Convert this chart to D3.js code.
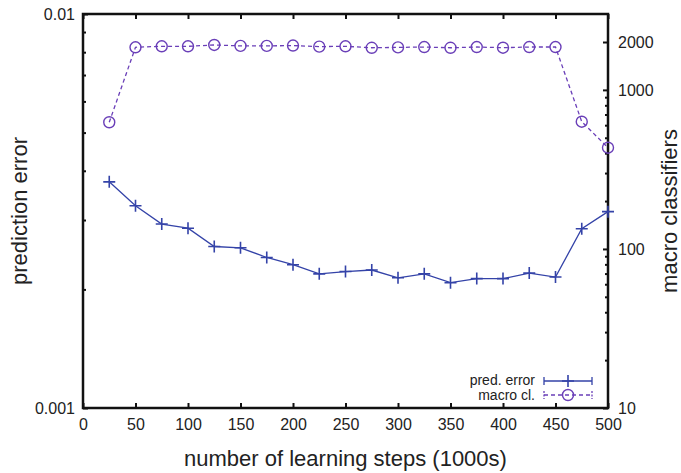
<!DOCTYPE html>
<html>
<head>
<meta charset="utf-8">
<script src="https://cdn.jsdelivr.net/npm/d3@7"></script>
<style>
body { margin: 0; background: #fff; }
text { font-family: "Liberation Sans", Arial, Helvetica, sans-serif; fill: #222; }
</style>
</head>
<body>
<div id="chart"></div>
<script>
// learning steps (1000s)
var steps = [25, 50, 75, 100, 125, 150, 175, 200, 225, 250, 275, 300, 325, 350, 375, 400, 425, 450, 475, 500];
// prediction error (left axis, log)
var predError = [0.00375, 0.00326, 0.00293, 0.00286, 0.00257, 0.00255, 0.00241, 0.00231, 0.00219, 0.00222,
                 0.00224, 0.00214, 0.00219, 0.00208, 0.00213, 0.00213, 0.00220, 0.00215, 0.00285, 0.00315];
// number of macro classifiers (right axis, log)
var macroCl = [626, 1853, 1880, 1880, 1916, 1890, 1890, 1900, 1870, 1880,
               1840, 1850, 1860, 1840, 1860, 1842, 1860, 1860, 631, 433];

var xTicks = [0, 50, 100, 150, 200, 250, 300, 350, 400, 450, 500];
var leftTicks = [0.001, 0.01];
var leftMinor = [0.002, 0.003, 0.004, 0.005, 0.006, 0.007, 0.008, 0.009];
var rightTicks = [10, 100, 1000, 2000];
var rightMinor = [20, 30, 40, 50, 60, 70, 80, 90, 200, 300, 400, 500, 600, 700, 800, 900];

var W = 681, H = 473;
var margin = {top: 14, right: 73, bottom: 65, left: 83},
    width = W - margin.left - margin.right,
    height = H - margin.top - margin.bottom;

var blue = "#3443a8", purple = "#6a3fb8";

var svg = d3.select("#chart").append("svg")
    .attr("width", W)
    .attr("height", H);
var g = svg.append("g")
    .attr("transform", "translate(" + margin.left + "," + margin.top + ")");

var x = d3.scaleLinear().domain([0, 500]).range([0, width]);
var yL = d3.scaleLog().domain([0.001, 0.01]).range([height, 0]);
var yR = d3.scaleLog().domain([10, 3000]).range([height, 0]);

// axes (ticks inside, like gnuplot)
var xAxis = d3.axisBottom(x).tickValues(xTicks).tickSize(-5).tickPadding(11).tickFormat(d3.format("d"));
var xTop = d3.axisTop(x).tickValues(xTicks).tickSize(-5).tickFormat("");
var lAxis = d3.axisLeft(yL).tickValues(leftTicks).tickSize(-5).tickPadding(8).tickFormat(function(d) { return d === 0.01 ? "0.01" : "0.001"; });
var lMinor = d3.axisLeft(yL).tickValues(leftMinor).tickSize(-3).tickFormat("");
var rAxis = d3.axisRight(yR).tickValues(rightTicks).tickSize(-5).tickPadding(10).tickFormat(d3.format("d"));
var rMinor = d3.axisRight(yR).tickValues(rightMinor).tickSize(-3).tickFormat("");

function styleAxis(sel) {
  sel.select(".domain").remove();
  sel.selectAll("line").attr("stroke", "#111").attr("stroke-width", 2);
  sel.selectAll("text").style("font-size", "16px").attr("fill", "#222");
}

g.append("g").attr("transform", "translate(0," + height + ")").call(xAxis).call(styleAxis);
g.append("g").call(xTop).call(styleAxis);
g.append("g").call(lAxis).call(styleAxis);
g.append("g").call(lMinor).call(styleAxis);
g.append("g").attr("transform", "translate(" + width + ",0)").call(rAxis).call(styleAxis);
g.append("g").attr("transform", "translate(" + width + ",0)").call(rMinor).call(styleAxis);

// frame
g.append("rect")
    .attr("width", width).attr("height", height)
    .attr("fill", "none").attr("stroke", "#111").attr("stroke-width", 2.5);

// macro classifiers line
var lineR = d3.line().x(function(d, i) { return x(steps[i]); }).y(function(d) { return yR(d); });
g.append("path").datum(macroCl)
    .attr("d", lineR).attr("fill", "none").attr("stroke", purple)
    .attr("stroke-width", 1.3).attr("stroke-dasharray", "4,3");
g.selectAll(".circ").data(macroCl).enter().append("circle")
    .attr("cx", function(d, i) { return x(steps[i]); })
    .attr("cy", function(d) { return yR(d); })
    .attr("r", 5.5).attr("fill", "none").attr("stroke", purple).attr("stroke-width", 1.4);

// prediction error line
var lineL = d3.line().x(function(d, i) { return x(steps[i]); }).y(function(d) { return yL(d); });
g.append("path").datum(predError)
    .attr("d", lineL).attr("fill", "none").attr("stroke", blue).attr("stroke-width", 1.3);
function plus(sel, cx, cy, s) {
  sel.append("path")
      .attr("d", "M" + (cx - s) + "," + cy + "H" + (cx + s) + "M" + cx + "," + (cy - s) + "V" + (cy + s))
      .attr("stroke", blue).attr("stroke-width", 1.6);
}
predError.forEach(function(d, i) { plus(g, x(steps[i]), yL(d), 6); });

// axis titles
svg.append("text")
    .attr("x", margin.left + width / 2).attr("y", 466)
    .attr("text-anchor", "middle").style("font-size", "22px")
    .text("number of learning steps (1000s)");
svg.append("text")
    .attr("transform", "translate(27," + (margin.top + height / 2) + ") rotate(-90)")
    .attr("text-anchor", "middle").style("font-size", "22px")
    .text("prediction error");
svg.append("text")
    .attr("transform", "translate(677," + (margin.top + height / 2) + ") rotate(-90)")
    .attr("text-anchor", "middle").style("font-size", "22px")
    .text("macro classifiers");

// legend
var legend = g.append("g").attr("transform", "translate(" + (535 - margin.left) + "," + (381 - margin.top) + ")");
var lx0 = 544 - 535, lx1 = 592 - 535, lm = (lx0 + lx1) / 2;
legend.append("text").attr("x", 0).attr("y", -1).attr("dy", "0.35em")
    .attr("text-anchor", "end").style("font-size", "14px").text("pred. error");
legend.append("path")
    .attr("d", "M" + lx0 + ",0H" + lx1 + "M" + lx0 + ",-4V4M" + lx1 + ",-4V4")
    .attr("stroke", blue).attr("stroke-width", 1.3).attr("fill", "none");
plus(legend, lm, 0, 6);
legend.append("text").attr("x", 0).attr("y", 14).attr("dy", "0.35em")
    .attr("text-anchor", "end").style("font-size", "14px").text("macro cl.");
legend.append("path")
    .attr("d", "M" + lx0 + ",14H" + lx1)
    .attr("stroke", purple).attr("stroke-width", 1.3).attr("stroke-dasharray", "4,3").attr("fill", "none");
legend.append("path")
    .attr("d", "M" + lx0 + ",10V18M" + lx1 + ",10V18")
    .attr("stroke", purple).attr("stroke-width", 1.3).attr("stroke-dasharray", "2,1.5").attr("fill", "none");
legend.append("circle").attr("cx", lm).attr("cy", 14).attr("r", 5.5)
    .attr("fill", "none").attr("stroke", purple).attr("stroke-width", 1.4);
</script>
</body>
</html>
